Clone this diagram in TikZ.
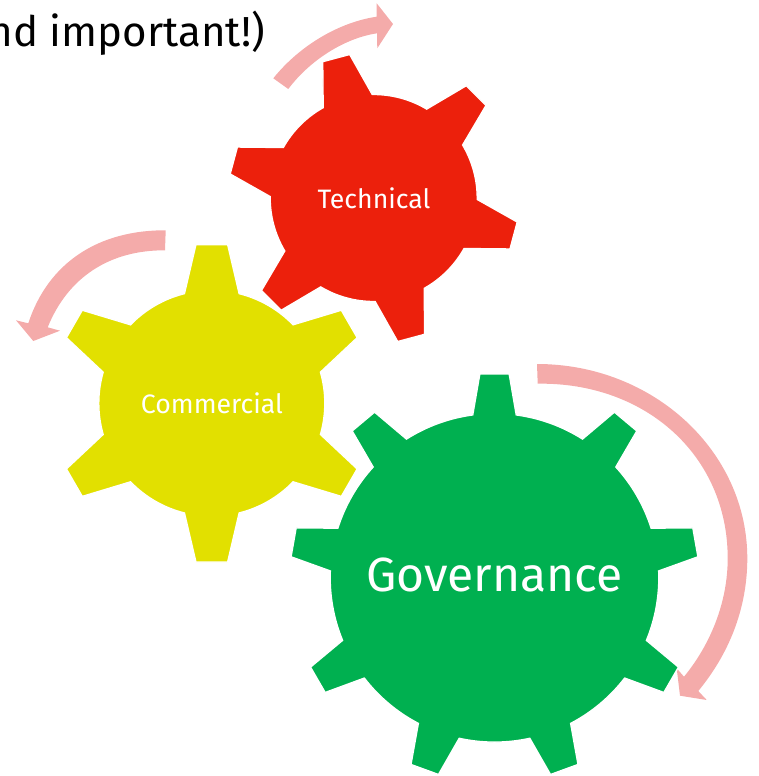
\documentclass[tikz,border=0pt]{standalone}
\usepackage{fontspec}
\setmainfont{Fira Sans}
\definecolor{gearred}{HTML}{EC200C}
\definecolor{gearyellow}{HTML}{E2E000}
\definecolor{geargreen}{HTML}{00B050}
\definecolor{turnpink}{HTML}{F4ABAA}
\tikzset{
  gearbody/.style={draw=white, line width=1pt, line join=miter},
  gearlabel/.style={text=white, inner sep=0pt, anchor=center},
  turnarrow/.style={fill=turnpink}
}
% centre, colour, teeth, first tooth angle, root r, tip r, root half angle, tip half angle
\newcommand{\gearshape}[8]{
  \begin{scope}[shift={#1}, y=0.75pt]
    \fill[gearbody, fill=#2] (#4+#7:#5)
      \foreach \k [evaluate=\k as \a using {#4-(\k-1)*360/#3}] in {1,...,#3} {
        -- (\a+#8:#6) -- (\a-#8:#6) -- (\a-#7:#5)
        arc[start angle=\a-#7, end angle=\a-360/#3+#7, radius=#5]
      } -- cycle;
  \end{scope}
}
\begin{document}
\begin{tikzpicture}[x=0.75pt, y=-0.75pt]
    \useasboundingbox (0,0) rectangle (759,776);

    % --- Heading, cut by the left edge ---
    \begin{scope}
        \clip (0,0) rectangle (759,776);
        \node[anchor=base east, inner sep=0pt, font=\fontsize{31.5}{38}\selectfont] (heading) at (265,46) {nd important!)};
    \end{scope}

    % --- Rotation arrows ---
    \fill[turnarrow] (273.3,78.3) .. controls (300,45) and (340,22) .. (376.7,16.7)
        -- (376.7,3.3) -- (393,24) -- (377.3,48.3) -- (377,33.3)
        .. controls (345,38) and (310,60) .. (288.3,89) -- cycle;
    \fill[turnarrow] (165.7,230.3) .. controls (98,230) and (48,263) .. (28.3,323.3)
        -- (16,320.3) -- (33.3,341) -- (60,330.7) -- (47.7,327.3)
        .. controls (68,277) and (110,250) .. (165,250.3) -- cycle;
    \fill[turnarrow] (537,364) .. controls (653,364) and (747.3,451) .. (747.3,558.3)
        .. controls (747.3,610) and (728,655) .. (698.3,691)
        -- (706.7,700) -- (680,695.7) -- (676.7,668.3) -- (684,676.7)
        .. controls (710,645) and (727.7,603) .. (727.7,558.3)
        .. controls (727.7,455) and (645,382) .. (537.7,383.7) -- cycle;

    % --- Gears ---
    \gearshape{(211.8,403.3)}{gearyellow}{6}{90}{113}{159.5}{14}{5.7}
    \gearshape{(373.7,198)}{gearred}{6}{105}{103.5}{145.5}{14.2}{5.5}
    \gearshape{(494.5,577.8)}{geargreen}{9}{90}{164.3}{204.5}{7.6}{4.1}

    % --- Labels ---
    \node[gearlabel, font=\fontsize{20}{24}\selectfont] (commercial) at (212,403) {Commercial};
    \node[gearlabel, font=\fontsize{20}{24}\selectfont] (technical) at (374,198) {Technical};
    \node[gearlabel, font=\fontsize{36}{44}\selectfont] (governance) at (494.5,575) {Governance};
\end{tikzpicture}
\end{document}
